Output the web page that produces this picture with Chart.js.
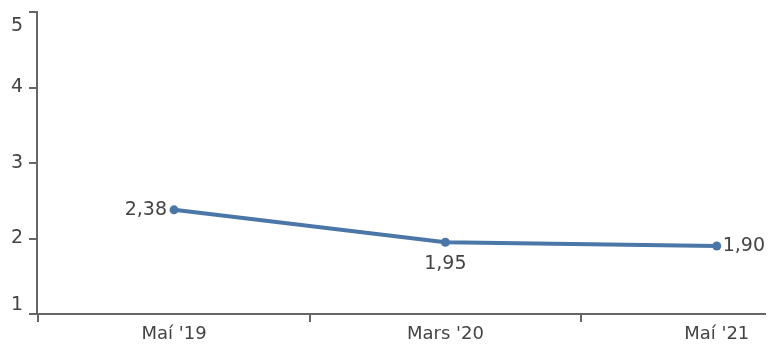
<!DOCTYPE html>
<html>
<head>
<meta charset="utf-8">
<script src="https://cdn.jsdelivr.net/npm/chart.js@4/dist/chart.umd.min.js"></script>
<style>
  html, body { margin: 0; padding: 0; background: #fff; }
  #wrap { width: 769px; height: 347px; position: relative; }
</style>
</head>
<body>
<div id="wrap"><canvas id="c" width="769" height="347"></canvas></div>
<script>
const categories = ["Maí '19", "Mars '20", "Maí '21"];
const values = [2.38, 1.95, 1.90];
const valueLabels = ["2,38", "1,95", "1,90"];
const yTicks = [1, 2, 3, 4, 5];

const FONT = "'DejaVu Sans', sans-serif";
const TEXT = '#444';
const AXIS = '#666';
const LINE = '#4a76a8';
const labelPlacement = ['left', 'below', 'right'];

const yLabelPlugin = {
  id: 'yLabels',
  afterDraw(chart) {
    const s = chart.scales.y, ctx = chart.ctx;
    ctx.save();
    ctx.font = '19px ' + FONT;
    ctx.fillStyle = TEXT;
    ctx.textAlign = 'right';
    ctx.textBaseline = 'middle';
    yTicks.forEach(v => {
      let y = s.getPixelForValue(v);
      y = Math.min(Math.max(y, s.top + 14), s.bottom - 9);
      ctx.fillText(String(v), s.right - 14, y);
    });
    ctx.restore();
  }
};

const valueLabelPlugin = {
  id: 'valueLabels',
  afterDatasetsDraw(chart) {
    const ctx = chart.ctx;
    const meta = chart.getDatasetMeta(0);
    ctx.save();
    ctx.font = '19px ' + FONT;
    ctx.fillStyle = TEXT;
    meta.data.forEach((pt, i) => {
      const mode = labelPlacement[i];
      let x = pt.x, y = pt.y;
      if (mode === 'left') { ctx.textAlign = 'right'; ctx.textBaseline = 'middle'; x -= 7; }
      else if (mode === 'right') { ctx.textAlign = 'left'; ctx.textBaseline = 'middle'; x += 6; }
      else { ctx.textAlign = 'center'; ctx.textBaseline = 'top'; y += 12; }
      ctx.fillText(valueLabels[i], x, y);
    });
    ctx.restore();
  }
};

// category index positions on a linear axis; boundaries at half steps
const points = values.map((v, i) => ({ x: i, y: v }));
const xTickValues = [-0.5, 0, 0.5, 1, 1.5, 2];

new Chart(document.getElementById('c'), {
  type: 'line',
  data: {
    datasets: [{
      data: points,
      borderColor: LINE,
      backgroundColor: LINE,
      borderWidth: 4,
      pointRadius: 4.5,
      pointBackgroundColor: LINE,
      pointBorderWidth: 0,
      tension: 0,
      clip: false
    }]
  },
  options: {
    responsive: false,
    animation: false,
    devicePixelRatio: 1,
    layout: { padding: { top: 12, left: 0, right: 0, bottom: 0 } },
    plugins: { legend: { display: false }, tooltip: { enabled: false } },
    scales: {
      x: {
        type: 'linear',
        min: -0.505,
        max: 2.176,
        afterBuildTicks(s) { s.ticks = xTickValues.map(v => ({ value: v })); },
        border: { color: AXIS, width: 2 },
        grid: {
          drawOnChartArea: false, lineWidth: 2, tickLength: 8,
          tickColor: ctx => (ctx.tick && Number.isInteger(ctx.tick.value)) ? 'rgba(0,0,0,0)' : AXIS
        },
        ticks: {
          color: TEXT, font: { family: FONT, size: 18 }, padding: 2, maxRotation: 0, autoSkip: false,
          callback: v => Number.isInteger(v) ? categories[v] : ''
        },
        afterFit(s) { s.height = 33; }
      },
      y: {
        min: 1, max: 5,
        afterBuildTicks(s) { s.ticks = yTicks.map(v => ({ value: v })); },
        border: { color: AXIS, width: 2 },
        grid: { drawOnChartArea: false, color: AXIS, lineWidth: 2, tickLength: 8 },
        ticks: { callback: () => '', font: { size: 1 } },
        afterFit(s) { s.width = 37; }
      }
    }
  },
  plugins: [yLabelPlugin, valueLabelPlugin]
});
</script>
</body>
</html>
